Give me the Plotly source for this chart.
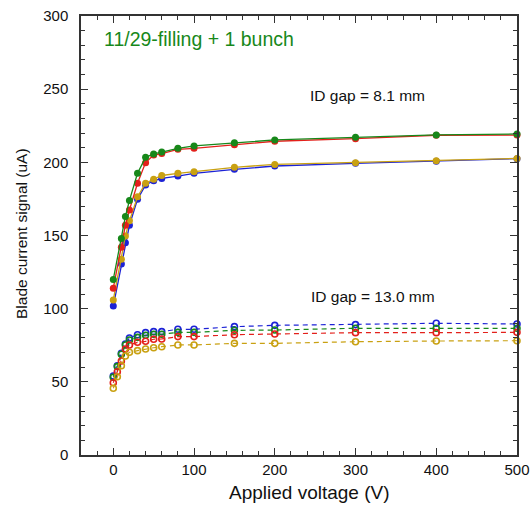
import plotly.graph_objects as go

# ---- data ----
v_hi = [0, 10, 15, 20, 30, 40, 50, 60, 80, 100, 150, 200, 300, 400, 500]
green_hi = [120, 148, 163, 174, 192.5, 203.4, 205.7, 207, 209.6, 211.2, 213.4, 215.3, 217.1, 218.7, 219.4]
red_hi = [114, 142, 157, 167.4, 185.7, 199.8, 205, 206, 208.9, 209.6, 212, 214.4, 216.2, 218.5, 218.6]
yellow_hi = [106, 133.7, 149.7, 160, 176.5, 185.7, 188.4, 191, 192.5, 193.6, 196.6, 198.6, 199.8, 201.1, 202.7]
blue_hi = [101.8, 130.5, 145, 157, 174.7, 184.5, 187.4, 189, 190.6, 192.5, 195.2, 197.5, 199.3, 200.7, 202.5]

v_lo = [0, 5, 10, 15, 20, 30, 40, 50, 60, 80, 100, 150, 200, 300, 400, 500]
blue_lo = [54, 61, 69.5, 75.9, 80, 82.2, 83.6, 84.3, 84.3, 85.9, 85.9, 87.7, 88.6, 89.1, 90, 89.5]
green_lo = [53.1, 60.4, 68.8, 75.2, 78.6, 80.4, 81.8, 82.5, 82.5, 83.8, 83.8, 85.2, 85.4, 86.6, 86.6, 86.6]
red_lo = [49.4, 56.9, 64.2, 72.4, 75.2, 77.0, 77.7, 79.1, 79.3, 80.9, 80.9, 82.2, 82.7, 83.6, 83.6, 83.8]
yellow_lo = [45.6, 53.5, 61.0, 67.7, 70.2, 71.3, 72.4, 73.3, 74.0, 75.2, 75.2, 76.3, 76.3, 77.4, 77.9, 78.1]

x_ticks = [0, 100, 200, 300, 400, 500]
y_ticks = [0, 50, 100, 150, 200, 250, 300]

GREEN = "#17881a"
RED = "#e3201b"
BLUE = "#1c22d6"
GOLD = "#c9a112"

fig = go.Figure()

for ys, c in [(blue_lo, BLUE), (green_lo, GREEN), (red_lo, RED), (yellow_lo, GOLD)]:
    fig.add_trace(go.Scatter(
        x=v_lo, y=ys, mode="lines+markers",
        line=dict(color=c, width=1.2, dash="5px,4px"),
        marker=dict(symbol="circle-open", size=6, color=c, line=dict(width=1.6, color=c)),
        cliponaxis=False, showlegend=False))

for ys, c in [(blue_hi, BLUE), (yellow_hi, GOLD), (red_hi, RED), (green_hi, GREEN)]:
    fig.add_trace(go.Scatter(
        x=v_hi, y=ys, mode="lines+markers",
        line=dict(color=c, width=1.3),
        marker=dict(symbol="circle", size=7, color=c),
        cliponaxis=False, showlegend=False))

FONT = "Liberation Sans, Arial, sans-serif"

axis_common = dict(
    showline=True, linecolor="#333", linewidth=1.5, mirror="ticks",
    ticks="inside", ticklen=7, tickwidth=1, tickcolor="#333",
    showgrid=False, zeroline=False, ticklabeloverflow="allow", automargin=False,
    tickfont=dict(family=FONT, size=15, color="#111"),
)

fig.update_xaxes(range=[-40, 500], tickvals=x_ticks,
                 minor=dict(dtick=20, tick0=0, ticks="inside", ticklen=4, tickcolor="#333", showgrid=False),
                 **axis_common)
fig.update_yaxes(range=[0, 300], tickvals=y_ticks, ticklabelstandoff=8,
                 minor=dict(dtick=10, tick0=0, ticks="inside", ticklen=4, tickcolor="#333", showgrid=False),
                 **axis_common)

ann = [
    dict(text="11/29-filling + 1 bunch", x=0.048, y=0.947, xanchor="left", yanchor="middle",
         font=dict(family=FONT, size=19.5, color=GREEN)),
    dict(text="ID gap = 8.1 mm", x=0.52, y=0.818, xanchor="left", yanchor="middle",
         font=dict(family=FONT, size=15.5, color="#111")),
    dict(text="ID gap = 13.0 mm", x=0.523, y=0.36, xanchor="left", yanchor="middle",
         font=dict(family=FONT, size=15.5, color="#111")),
    dict(text="Blade current signal (uA)", x=-0.136, y=0.505, xanchor="center", yanchor="middle",
         textangle=-90, font=dict(family=FONT, size=15.5, color="#111")),
    dict(text="Applied voltage (V)", x=0.525, y=-0.086, xanchor="center", yanchor="middle",
         font=dict(family=FONT, size=19, color="#111")),
]
for a in ann:
    a.update(xref="paper", yref="paper", showarrow=False)

fig.update_layout(
    width=530, height=505, autosize=False,
    margin=dict(l=81, r=13, t=16, b=50, autoexpand=False),
    plot_bgcolor="white", paper_bgcolor="white",
    annotations=ann, showlegend=False,
)

fig.write_html("out.html", config={"displayModeBar": False},
               post_script="document.body.style.margin='0';document.body.style.overflow='hidden';")
